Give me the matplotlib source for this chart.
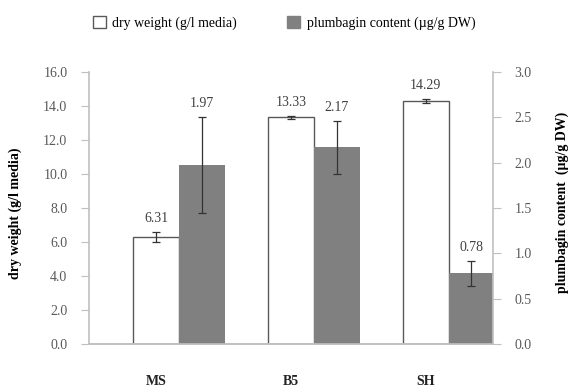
import numpy as np
import matplotlib
matplotlib.use("Agg")
import matplotlib.pyplot as plt
from matplotlib.patches import Patch

# data
media = ["MS", "B5", "SH"]
dry_weight = [6.31, 13.33, 14.29]
dry_weight_err = [0.30, 0.10, 0.12]
plumbagin = [1.97, 2.17, 0.78]
plumbagin_err = [0.53, 0.29, 0.14]

plt.rcParams['font.family'] = ['Liberation Serif', 'DejaVu Serif']

fig = plt.figure(figsize=(5.68, 3.92), dpi=100)
ax = fig.add_axes([89 / 568, 48 / 392, 404 / 568, 272 / 392])
ax2 = ax.twinx()

x = np.arange(len(media))
w = 0.34
spine_c = '#c0c0c0'
tick_c = '#595959'
fs = 10

ax.bar(x, dry_weight, w, color='white', edgecolor='#595959', linewidth=1.0, zorder=2)
ax.errorbar(x, dry_weight, yerr=dry_weight_err, fmt='none', ecolor='#333333',
            elinewidth=0.9, capsize=3, capthick=0.9, zorder=3)
ax2.bar(x + w, plumbagin, w, color='#808080', edgecolor='none', zorder=2)
ax2.errorbar(x + w, plumbagin, yerr=plumbagin_err, fmt='none', ecolor='#333333',
             elinewidth=0.9, capsize=3, capthick=0.9, zorder=3)

for xi, v, e in zip(x, dry_weight, dry_weight_err):
    ax.annotate('%.2f' % v, (xi, v + e), xytext=(0, 5), textcoords='offset points',
                ha='center', va='bottom', fontsize=fs, color='#404040')
for xi, v, e in zip(x, plumbagin, plumbagin_err):
    ax2.annotate('%.2f' % v, (xi + w, v + e), xytext=(0, 5), textcoords='offset points',
                 ha='center', va='bottom', fontsize=fs, color='#404040')

ax.set_xlim(-0.5, 2.5)
ax.set_ylim(0, 16)
ax2.set_ylim(0, 3)
ax.set_yticks(np.arange(0, 16.1, 2))
ax2.set_yticks(np.arange(0, 3.01, 0.5))
ax.set_yticklabels(['%.1f' % t for t in np.arange(0, 16.1, 2)])
ax2.set_yticklabels(['%.1f' % t for t in np.arange(0, 3.01, 0.5)])

ax.set_xticks(x)
ax.set_xticklabels(media, fontweight='bold', fontsize=fs)
ax.tick_params(axis='x', length=0, pad=22, colors='#222222')
ax.tick_params(axis='y', direction='out', length=5.5, color=spine_c, labelsize=fs,
               labelcolor=tick_c, pad=10)
ax2.tick_params(axis='y', direction='out', length=5.5, color=spine_c, labelsize=fs,
                labelcolor=tick_c, pad=10)

for a in (ax, ax2):
    a.spines['top'].set_visible(False)
    for s in ('left', 'right', 'bottom'):
        a.spines[s].set_color(spine_c)
        a.spines[s].set_linewidth(1.2)
ax.spines['right'].set_visible(False)
ax2.spines['left'].set_visible(False)

ax.set_ylabel('dry weight (g/l media)', fontweight='bold', fontsize=fs)
ax2.set_ylabel('plumbagin content  (\u00b5g/g DW)', fontweight='bold', fontsize=fs)
ax.yaxis.set_label_coords(-74 / 404, 0.48)
ax2.yaxis.set_label_coords(473 / 404, 0.52)
ax.yaxis.label.set_va('center')
ax2.yaxis.label.set_va('center')

handles = [Patch(facecolor='white', edgecolor='#595959', label='dry weight (g/l media)'),
           Patch(facecolor='#808080', edgecolor='#808080', label='plumbagin content (\u00b5g/g DW)')]
fig.legend(handles=handles, loc='center left', bbox_to_anchor=(93 / 568, 0.941), ncol=2,
           frameon=False, fontsize=fs, handlelength=0.9, handleheight=0.9,
           columnspacing=3.6, handletextpad=0.5, borderpad=0, borderaxespad=0)

fig.savefig('out.png', dpi=100)
